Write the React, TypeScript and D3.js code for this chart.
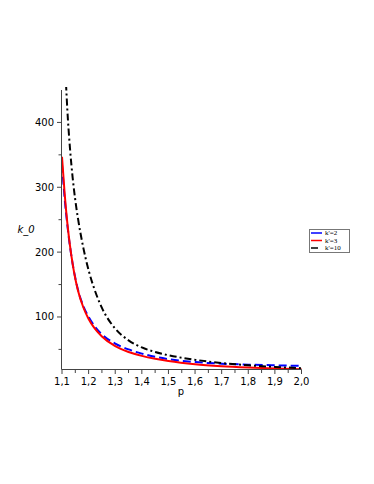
import React from 'react';
import * as d3 from 'd3';

const pLow = [1.1, 1.11, 1.12, 1.13, 1.14, 1.15, 1.16, 1.18, 1.2, 1.22, 1.25, 1.3, 1.35, 1.4, 1.45, 1.5, 1.6, 1.7, 1.8, 1.9, 2.0];
const k2 = [335, 283, 242, 209, 182, 160, 142, 117, 100, 87, 73, 59, 50, 43.5, 38.5, 35, 30.5, 28, 26.5, 25.5, 24.5];
const k3 = [347, 290, 245, 210, 182, 159, 141, 115, 97, 84, 70, 55, 46, 40, 35.5, 32, 27, 24, 22, 20.5, 19.5];
const pHigh = [1.115, 1.12, 1.13, 1.14, 1.15, 1.16, 1.18, 1.2, 1.22, 1.25, 1.3, 1.35, 1.4, 1.45, 1.5, 1.6, 1.7, 1.8, 1.9, 2.0];
const k10 = [460, 420, 360, 315, 280, 252, 207, 172, 145, 114, 82, 64, 53, 46, 41, 34, 29, 25.5, 23, 21];

const xTicks = [1.1, 1.2, 1.3, 1.4, 1.5, 1.6, 1.7, 1.8, 1.9, 2.0];
const xMinor = [1.15, 1.25, 1.35, 1.45, 1.55, 1.65, 1.75, 1.85, 1.95];
const yTicks = [100, 200, 300, 400];
const yMinor = [50, 150, 250, 350];

const series = [
  { label: "k'=2", p: pLow, k: k2, color: '#0000ff', dash: '8,4', legendDash: null },
  { label: "k'=3", p: pLow, k: k3, color: '#ff0000', dash: null, legendDash: null },
  { label: "k'=10", p: pHigh, k: k10, color: '#000000', dash: '7,3,2,3', legendDash: '7,4,2,4' },
];

const W = 374;
const H = 484;
const left = 62;
const right = 301.5;
const top = 90;
const bottom = 369.5;

export default function App() {
  const x = d3.scaleLinear().domain([1.1, 2.0]).range([left, right]);
  const y = d3.scaleLinear().domain([19, 450]).range([bottom, top]);
  const line = d3.line<number>().curve(d3.curveMonotoneX);
  const fmt = (v: number) => v.toFixed(1).replace('.', ',');
  const font = 'DejaVu Sans, sans-serif';

  return (
    <svg width={W} height={H} style={{ position: 'absolute', left: 0, top: 0 }}>
      <defs>
        <clipPath id="plot">
          <rect x={left - 2} y={top - 3} width={right - left + 4} height={bottom - top + 3} />
        </clipPath>
      </defs>
      <g clipPath="url(#plot)">
        {series.map(s => (
          <path
            key={s.label}
            d={line(s.p.map((p, i) => [x(p), y(s.k[i])] as [number, number])) || ''}
            fill="none"
            stroke={s.color}
            strokeWidth={2}
            strokeDasharray={s.dash || undefined}
          />
        ))}
      </g>
      {/* axes */}
      <line x1={left - 0.5} x2={left - 0.5} y1={top} y2={bottom} stroke="#444" />
      <line x1={left - 0.5} x2={right} y1={bottom} y2={bottom} stroke="#444" />
      {yTicks.map(t => (
        <g key={t}>
          <line x1={left - 5} x2={left} y1={y(t)} y2={y(t)} stroke="#444" />
          <text x={left - 8} y={y(t) + 3.5} textAnchor="end" fontSize={10} fontFamily={font}>{t}</text>
        </g>
      ))}
      {yMinor.map(t => (
        <line key={t} x1={left - 3.5} x2={left} y1={y(t)} y2={y(t)} stroke="#444" />
      ))}
      {xTicks.map(t => (
        <g key={t}>
          <line x1={x(t)} x2={x(t)} y1={bottom} y2={bottom + 4.5} stroke="#444" />
          <text x={x(t)} y={bottom + 15} textAnchor="middle" fontSize={10} fontFamily={font}>{fmt(t)}</text>
        </g>
      ))}
      {xMinor.map(t => (
        <line key={t} x1={x(t)} x2={x(t)} y1={bottom} y2={bottom + 3.5} stroke="#444" />
      ))}
      <text x={181} y={395} textAnchor="middle" fontSize={10} fontFamily={font}>p</text>
      <text x={26} y={233} textAnchor="middle" fontSize={10} fontStyle="italic" fontFamily={font}>k_0</text>
      {/* legend */}
      <rect x={309.5} y={229.5} width={40} height={23} fill="white" stroke="#777" />
      {series.map((s, i) => (
        <g key={s.label}>
          <line x1={311} x2={322} y1={233 + i * 7.5} y2={233 + i * 7.5} stroke={s.color} strokeWidth={1.5}
            strokeDasharray={s.legendDash || undefined} />
          <text x={325} y={235.3 + i * 7.5} fontSize={7} fontFamily="Liberation Serif, serif">{s.label}</text>
        </g>
      ))}
    </svg>
  );
}
